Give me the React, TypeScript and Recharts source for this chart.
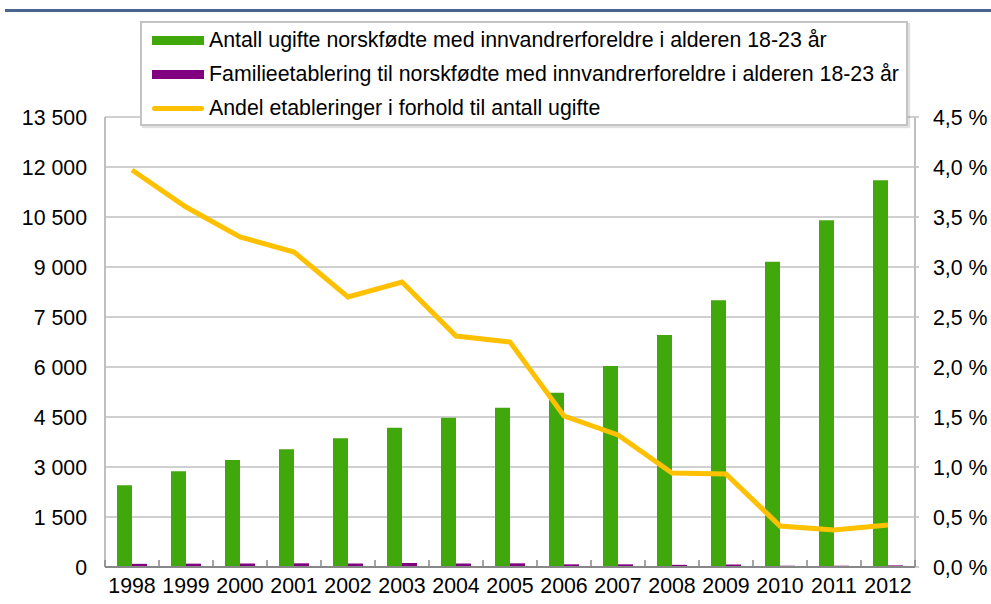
import React from 'react';
import { ComposedChart, Bar, Line, XAxis, YAxis, CartesianGrid } from 'recharts';

// values
const years = ['1998', '1999', '2000', '2001', '2002', '2003', '2004', '2005', '2006', '2007', '2008', '2009', '2010', '2011', '2012'];
const unmarried = [2450, 2870, 3210, 3530, 3860, 4180, 4480, 4780, 5230, 6030, 6960, 8000, 9160, 10400, 11600];
const establishments = [95, 100, 105, 110, 105, 120, 105, 110, 80, 80, 65, 75, 38, 38, 48];
const sharePct = [3.97, 3.6, 3.3, 3.15, 2.7, 2.85, 2.31, 2.25, 1.51, 1.32, 0.94, 0.93, 0.41, 0.37, 0.42];

const leftTicks = [0, 1500, 3000, 4500, 6000, 7500, 9000, 10500, 12000, 13500];
const rightTicks = [0, 0.5, 1, 1.5, 2, 2.5, 3, 3.5, 4, 4.5];

const seriesNames = [
  'Antall ugifte norskfødte med innvandrerforeldre i alderen 18-23 år',
  'Familieetablering til norskfødte med innvandrerforeldre i alderen 18-23 år',
  'Andel etableringer i forhold til antall ugifte',
];

const GREEN = '#41a80b';
const PURPLE = '#800080';
const GOLD = '#ffc000';
const FONT = '"Liberation Sans", Arial, sans-serif';
const FS = 21.33;

const W = 991;
const H = 604;
const LEFT_W = 105;
const RIGHT_W = 76;
const PLOT_W = W - LEFT_W - RIGHT_W;

const data = years.map((year, i) => ({
  year,
  unmarried: unmarried[i],
  establishments: establishments[i],
  share: sharePct[i],
}));

const fmtThousands = (v: number) => String(v).replace(/\B(?=(\d{3})+(?!\d))/g, ' ');
const fmtPct = (v: number) => `${v.toFixed(1).replace('.', ',')} %`;

const TICK_MARGIN = 11;

// category label plus small tick marks on the category boundaries
const YearTick = (props: any) => {
  const { x, y, payload, index } = props;
  const band = PLOT_W / years.length;
  const axisY = y - TICK_MARGIN;
  const last = index === years.length - 1;
  return (
    <g>
      <line x1={x - band / 2} x2={x - band / 2} y1={axisY} y2={axisY - 7} stroke="#878787" strokeWidth={1.5} />
      {last && <line x1={x + band / 2} x2={x + band / 2} y1={axisY} y2={axisY - 7} stroke="#878787" strokeWidth={1.5} />}
      <text x={x} y={y} dy="0.71em" textAnchor="middle" fontSize={FS} fontFamily={FONT} fill="#000">
        {payload.value}
      </text>
    </g>
  );
};

const LegendBox = () => {
  const swatches = [
    { color: GREEN, h: 9, r: 0 },
    { color: PURPLE, h: 9, r: 0 },
    { color: GOLD, h: 5, r: 3 },
  ];
  return (
    <div
      style={{
        position: 'absolute',
        left: 140,
        top: 21,
        width: 764,
        height: 101,
        border: '2px solid #c3c3c3',
        boxShadow: '2px 2px 1px rgba(0,0,0,0.12)',
        background: '#fff',
        fontFamily: FONT,
        fontSize: FS,
        color: '#000',
      }}
    >
      {seriesNames.map((name, i) => (
        <div key={name} style={{ height: 34, display: 'flex', alignItems: 'center' }}>
          <div
            style={{
              marginLeft: 10,
              width: 52,
              height: swatches[i].h,
              borderRadius: swatches[i].r,
              background: swatches[i].color,
            }}
          />
          <span style={{ marginLeft: 5, whiteSpace: 'nowrap' }}>{name}</span>
        </div>
      ))}
    </div>
  );
};

const App: React.FC = () => {
  return (
    <div style={{ position: 'absolute', left: 0, top: 0, width: W, height: H, background: '#fff', fontFamily: FONT }}>
      <div style={{ position: 'absolute', left: 5, top: 9, width: W - 5, height: 3, background: '#4a6490' }} />
      <ComposedChart width={W} height={H} data={data} margin={{ top: 117, right: 0, bottom: 0, left: 0 }} barSize={15} barGap={0}>
        <CartesianGrid vertical={false} stroke="#c0c0c0" strokeWidth={1.5} yAxisId="left" />
        <XAxis
          dataKey="year"
          height={H - 567}
          interval={0}
          axisLine={{ stroke: '#878787', strokeWidth: 2 }}
          tickLine={false}
          tickSize={0}
          tickMargin={TICK_MARGIN}
          tick={<YearTick />}
        />
        <YAxis
          yAxisId="left"
          width={LEFT_W}
          domain={[0, 13500]}
          ticks={leftTicks}
          interval={0}
          tickFormatter={fmtThousands}
          axisLine={{ stroke: '#bfbfbf', strokeWidth: 2 }}
          tickLine={false}
          tickSize={0}
          tickMargin={18}
          tick={{ fontSize: FS, fontFamily: FONT, fill: '#000' }}
        />
        <YAxis
          yAxisId="right"
          orientation="right"
          width={RIGHT_W}
          domain={[0, 4.5]}
          ticks={rightTicks}
          interval={0}
          tickFormatter={fmtPct}
          axisLine={{ stroke: '#bfbfbf', strokeWidth: 2 }}
          tickLine={{ stroke: '#bfbfbf', strokeWidth: 1.5 }}
          tickSize={4}
          tickMargin={14}
          tick={{ fontSize: FS, fontFamily: FONT, fill: '#000', textAnchor: 'start' }}
        />
        <Bar yAxisId="left" dataKey="unmarried" name={seriesNames[0]} fill={GREEN} isAnimationActive={false} />
        <Bar yAxisId="left" dataKey="establishments" name={seriesNames[1]} fill={PURPLE} isAnimationActive={false} />
        <Line
          yAxisId="right"
          type="linear"
          dataKey="share"
          name={seriesNames[2]}
          stroke={GOLD}
          strokeWidth={5}
          dot={false}
          activeDot={false}
          isAnimationActive={false}
        />
      </ComposedChart>
      <LegendBox />
    </div>
  );
};

export default App;
